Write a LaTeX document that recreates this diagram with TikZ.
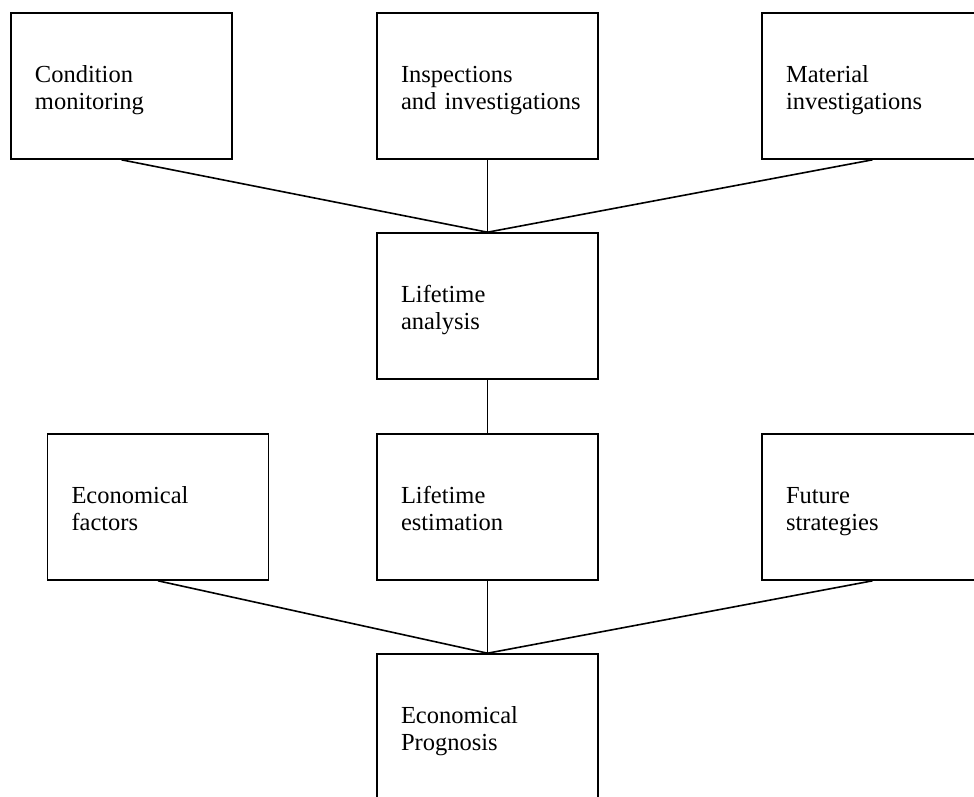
\documentclass[tikz,border=0pt]{standalone}
\usepackage{fontspec}
\setmainfont{Liberation Serif}
\begin{document}
\begin{tikzpicture}[x=1pt,y=-1pt,
  box/.style={draw, line width=1.6pt, rectangle, minimum width=221pt,
    minimum height=146pt, inner xsep=12pt, inner ysep=0pt,
    text width=197pt, align=left, text height=19pt, text depth=27pt,
    font=\fontsize{24.5}{27.5}\selectfont,
    execute at begin node={\leftskip=12pt\strut}},
  link/.style={line width=1.6pt}]
  \path[use as bounding box, clip] (0,0) rectangle (974,796);

  % first row: sources of information
  \node[box] (cond) at (121.5,86) {Condition\\monitoring};
  \node[box] (insp) at (487.5,86) {Inspections\\and investigations};
  \node[box] (mat)  at (872.5,86) {Material\\investigations};

  % analysis
  \node[box] (ana) at (487.5,306) {Lifetime\\analysis};

  % second row
  \node[box] (eco) at (158,507)   {Economical\\factors};
  \node[box] (est) at (487.5,507) {Lifetime\\estimation};
  \node[box] (fut) at (872.5,507) {Future\\strategies};

  % final result
  \node[box] (prog) at (487.5,727) {Economical\\Prognosis};

  \draw[link] (cond.south) -- (ana.north);
  \draw[link] (insp.south) -- (ana.north);
  \draw[link] (mat.south)  -- (ana.north);
  \draw[link] (ana.south)  -- (est.north);
  \draw[link] (eco.south)  -- (prog.north);
  \draw[link] (est.south)  -- (prog.north);
  \draw[link] (fut.south)  -- (prog.north);
\end{tikzpicture}
\end{document}
